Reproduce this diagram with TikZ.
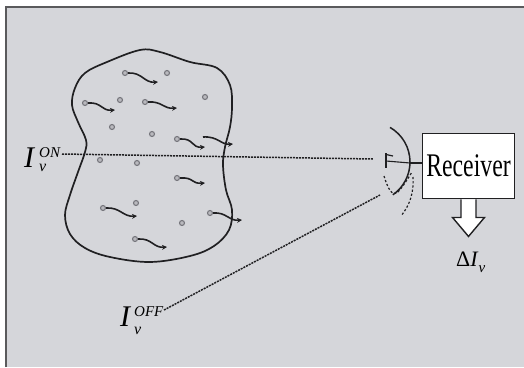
\documentclass[tikz,border=0pt]{standalone}
\usepackage{fontspec}
\setmainfont{Liberation Serif}
\newfontfamily\narrowserif[FakeStretch=0.72]{Liberation Serif}
\usetikzlibrary{arrows.meta,calc}

\definecolor{panel}{RGB}{213,214,218}
\definecolor{ink}{RGB}{32,32,34}
\definecolor{dotgray}{RGB}{120,120,126}
\definecolor{dotfill}{RGB}{185,185,190}
\definecolor{framegray}{RGB}{90,90,92}

% I_nu with a superscript: #1 gap, #2 superscript, #3 lowering of the subscript
\newcommand\intensity[3]{{\fontsize{30}{30}\selectfont\itshape I}\kern#1\rlap{\raisebox{10pt}{\fontsize{15}{15}\selectfont\itshape #2}}\raisebox{-#3}{\fontsize{16}{16}\selectfont\itshape ν}}

\tikzset{
  outline/.style={draw=ink, line width=1.7pt},
  beam/.style={draw=ink, line width=1.5pt, dash pattern=on 2pt off 1pt},
  ghost/.style={draw=ink, line width=1.2pt, dash pattern=on 2.2pt off 2pt},
  particle/.style={circle, draw=dotgray, fill=dotfill, line width=1.1pt, inner sep=0pt, minimum size=5pt},
  photon/.style={draw=ink, line width=1.6pt, -{Stealth[length=5pt,width=5pt]}},
  intlabel/.style={inner sep=0pt, anchor=base west},
}

\begin{document}
\begin{tikzpicture}[x=1pt,y=-1pt]
\useasboundingbox (0,0) rectangle (524,367);
\fill[white] (0,0) rectangle (524,367);
\fill[panel] (6,7) rectangle (524,367);
\draw[framegray, line width=1.5pt] (6,367) -- (6,7) -- (524,7);

% emitting cloud
\draw[outline] plot[smooth cycle, tension=0.6] coordinates {
  (230,85) (232,107) (230,127) (225,147) (223,165) (226,190) (232,210)
  (229,230) (214,246) (190,256) (150,262) (110,257) (85,248) (70,234)
  (65,215) (70,195) (78,172) (85,152) (86,140) (78,122) (72,105)
  (75,88) (85,73) (107,62) (140,50) (160,52) (190,62) (217,68)};

% idle particles
\foreach \x/\y [count=\i] in {167/73, 120/100, 205/97, 112/127, 152/134,
                              100/160, 137/163, 136/203, 182/223}
  \node[particle] (p\i) at (\x,\y) {};

% emitting particles with their photons
\foreach \sx/\sy/\ex/\ey [count=\i] in {125/73/158/82, 85/103/115/110,
    145/102/177/108, 177/139/205/147, 177/178/205/183, 103/208/137/216,
    210/213/242/220, 135/239/167/247} {
  \node[particle] (src\i) at (\sx,\sy) {};
  \coordinate (dst\i) at (\ex,\ey);
  \draw[photon] (src\i.east) .. controls +(14,-1) and +(-14,1) .. (dst\i);
}
\coordinate (lonestart) at (203,137);
\coordinate (loneend) at (233,144);
\draw[photon] (lonestart) .. controls +(15,-1) and +(-12,1) .. (loneend);

% intensity labels
\node[intlabel] (Ion) at (24,167) {\intensity{5pt}{ON}{4pt}};
\node[intlabel] (Ioff) at (120,326) {\intensity{4pt}{OFF}{8pt}};

% receiver
\node[draw=ink, line width=1.9pt, fill=white, minimum width=92pt, minimum height=65pt,
      inner sep=0pt, font=\narrowserif\fontsize{33}{33}\selectfont] (rx) at (468.5,166) {Receiver};

% dish antenna
\coordinate (vertex) at (410,163);
\coordinate (feed) at (386,161);
\draw[ink, line width=1.5pt] (390,127.4) .. controls (402.4,134.5) and (410,147.7) .. (410,162)
      .. controls (410,175) and (403.6,187.3) .. (392.9,194.8);
\draw[ink, line width=1.2pt] (386,153) -- (386,168);
\draw[ink, line width=1.2pt] (386,154.5) -- (393,156);
\draw[ink, line width=1.1pt] (feed) -- (vertex);
\draw[ink, line width=1.6pt] (vertex) -- (vertex -| rx.west);
% dish turned towards the reference direction
\draw[ghost] (384,176) .. controls (388,189) and (392,196) .. (397,193)
      .. controls (402,188) and (407,180) .. (412,172);
\draw[ghost] (413,177) .. controls (414,192) and (410,205) .. (401,216);

% lines of sight
\coordinate (onend) at (373,159);
\coordinate (offend) at (380,195);
\draw[beam] ($(Ion.base west)+(38,-13)$) -- (onend);
\draw[beam] ($(Ioff.base west)+(44,-16)$) -- (offend);

% output
\draw[ink, line width=1.4pt, fill=white]
  ($(rx.south)+(-7.5,0)$) -- ++(0,18) -- ++(-8.5,0) -- ($(rx.south)+(0,37)$)
  -- ($(rx.south)+(16,18)$) -- ++(-8.5,0) -- ($(rx.south)+(7.5,0)$);
\node[intlabel] (dI) at (456,266)
  {\fontsize{22}{22}\selectfont Δ\textit{I}\raisebox{-6pt}{\fontsize{15}{15}\selectfont\itshape ν}};
\end{tikzpicture}
\end{document}
